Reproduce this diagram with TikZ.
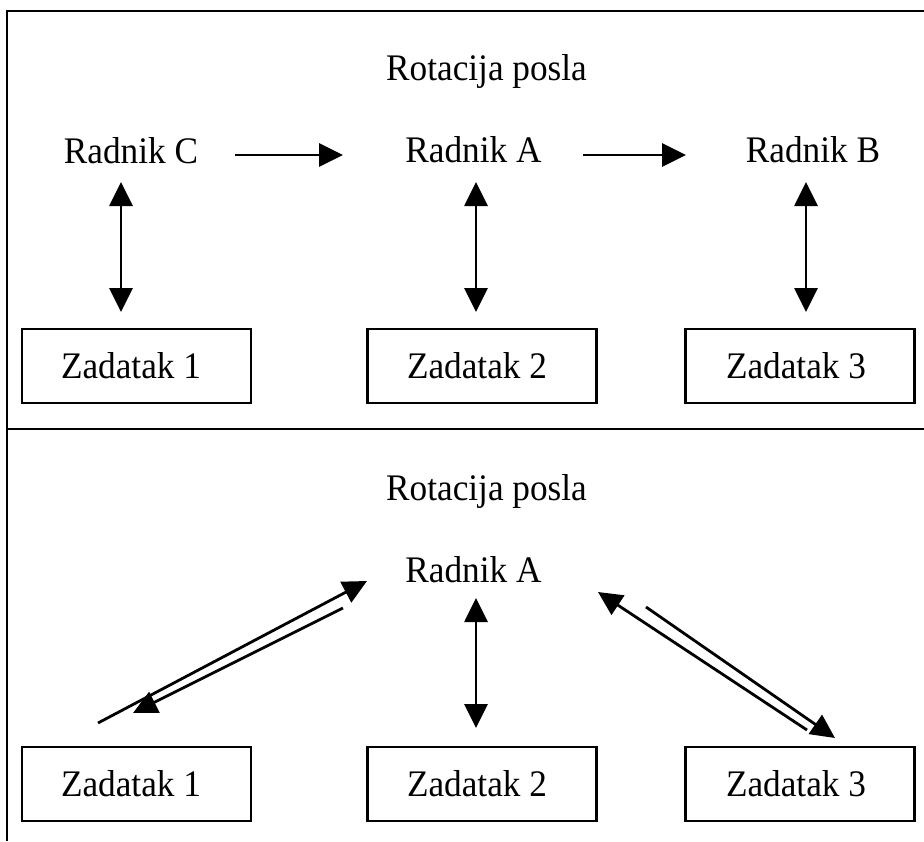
\documentclass[tikz,border=0pt]{standalone}
\usepackage{fontspec}
\setmainfont[FakeStretch=0.94]{Liberation Serif}
\usetikzlibrary{arrows.meta}
\tikzset{
  txt/.style={font=\fontsize{37.5}{42}\selectfont, inner sep=0pt, anchor=base},
  zbox/.style={draw, line width=2.4pt, minimum width=229pt, minimum height=74pt, inner sep=0pt},
  ztxt/.style={font=\fontsize{37.5}{42}\selectfont, inner sep=0pt, anchor=base},
  onearr/.style={line width=2.8pt, -{Triangle[length=24pt,width=23pt]}},
  twoarr/.style={line width=2.8pt, {Triangle[length=24pt,width=23pt]}-{Triangle[length=24pt,width=23pt]}},
  frameline/.style={line width=2pt}
}
\begin{document}
\begin{tikzpicture}[x=1pt,y=-1pt]
\useasboundingbox (0,0) rectangle (924,841);
% frame
\coordinate (ftl) at (7,11);
\coordinate (ftr) at (924,11);
\coordinate (fbl) at (7,841);
\coordinate (fml) at (7,429);
\coordinate (fmr) at (924,429);
\draw[frameline] (ftr) -- (ftl) -- (fbl);
\draw[frameline] (fml) -- (fmr);
% top section
\node[txt] (rot1) at (486.5,80) {Rotacija posla};
\node[txt] (rc) at (131,163) {Radnik C};
\node[txt] (ra) at (473.5,162) {Radnik A};
\node[txt] (rb) at (813,162) {Radnik B};
\node[zbox] (z1) at (136.5,366) {};
\node[zbox] (z2) at (482,366) {};
\node[zbox] (z3) at (800,366) {};
\node[ztxt] (z1t) at (131,378) {Zadatak 1};
\node[ztxt] (z2t) at (477,378) {Zadatak 2};
\node[ztxt] (z3t) at (796,378) {Zadatak 3};
\coordinate (h1s) at (235,155);
\coordinate (h1e) at (343,155);
\coordinate (h2s) at (583,155);
\coordinate (h2e) at (686,155);
\draw[onearr] (h1s) -- (h1e);
\draw[onearr] (h2s) -- (h2e);
\coordinate (v1t) at (121,182);
\coordinate (v1b) at (121,312);
\coordinate (v2t) at (476,182);
\coordinate (v2b) at (476,312);
\coordinate (v3t) at (806,182);
\coordinate (v3b) at (806,312);
\draw[twoarr] (v1t) -- (v1b);
\draw[twoarr] (v2t) -- (v2b);
\draw[twoarr] (v3t) -- (v3b);
% bottom section
\node[txt] (rot2) at (486.5,500) {Rotacija posla};
\node[txt] (ra2) at (473.5,582) {Radnik A};
\node[zbox] (w1) at (136.5,784) {};
\node[zbox] (w2) at (482,784) {};
\node[zbox] (w3) at (800,784) {};
\node[ztxt] (w1t) at (131,796) {Zadatak 1};
\node[ztxt] (w2t) at (477,796) {Zadatak 2};
\node[ztxt] (w3t) at (796,796) {Zadatak 3};
\coordinate (v4t) at (476,598);
\coordinate (v4b) at (476,728);
\draw[twoarr] (v4t) -- (v4b);
\coordinate (d1s) at (98,723);
\coordinate (d1e) at (367,581);
\coordinate (d2s) at (343,608);
\coordinate (d2e) at (133,713);
\coordinate (d3s) at (807,730);
\coordinate (d3e) at (598,592);
\coordinate (d4s) at (646,607);
\coordinate (d4e) at (835,738);
\draw[onearr] (d1s) -- (d1e);
\draw[onearr] (d2s) -- (d2e);
\draw[onearr] (d3s) -- (d3e);
\draw[onearr] (d4s) -- (d4e);
\end{tikzpicture}
\end{document}
